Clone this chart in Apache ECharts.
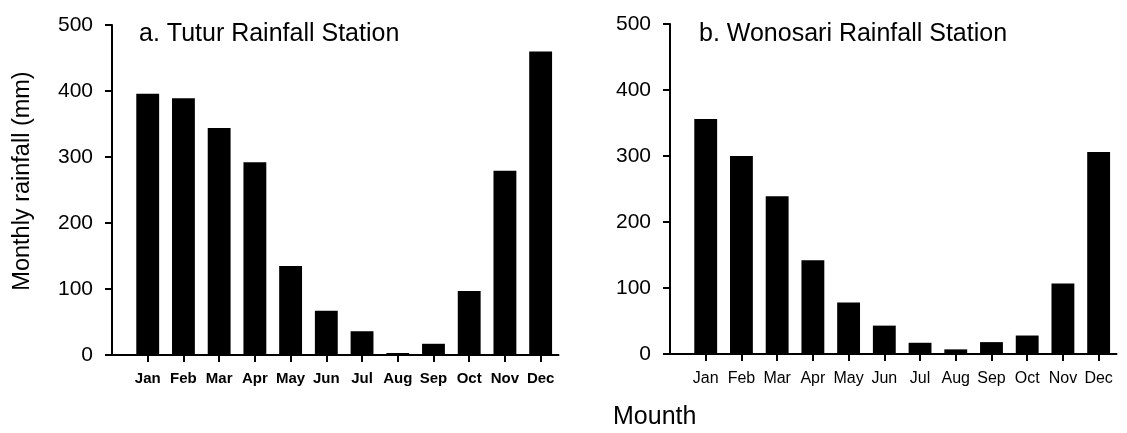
<!DOCTYPE html>
<html><head><meta charset="utf-8">
<script src="https://cdn.jsdelivr.net/npm/echarts@6/dist/echarts.min.js"></script>
<style>html,body{margin:0;padding:0;background:#fff}#c{width:1127px;height:433px}</style>
</head><body><div id="c"></div>
<script>
const months = ['Jan','Feb','Mar','Apr','May','Jun','Jul','Aug','Sep','Oct','Nov','Dec'];
const tuturRain = [396, 389, 344, 292, 135, 67, 36, 3, 17, 97, 279, 460];
const wonosariRain = [356, 300, 239, 142, 78, 43, 17, 7, 18, 28, 107, 306];
const yTickValues = [0, 100, 200, 300, 400, 500];
const panelTitles = ['a. Tutur Rainfall Station', 'b. Wonosari Rainfall Station'];
const yAxisTitle = 'Monthly rainfall (mm)';
const xAxisTitle = 'Mounth';

const FONT = "'Liberation Sans', Arial, Helvetica, sans-serif";
const monthIdx = months.map((m, i) => i);
const chart = echarts.init(document.getElementById('c'), null, {renderer: 'canvas'});

function xAx(gi, bold) {
  return {
    type: 'value', gridIndex: gi, min: -1, max: 11.5,
    splitLine: {show: false},
    axisLine: {onZero: false, lineStyle: {color: '#000', width: 2}},
    axisTick: {show: true, customValues: monthIdx, length: 7, lineStyle: {color: '#000', width: 2}},
    axisLabel: {
      customValues: monthIdx, formatter: v => months[v],
      fontSize: bold ? 15 : 16, fontWeight: bold ? 'bold' : 'normal',
      color: '#000', fontFamily: FONT, margin: bold ? 16 : 17
    }
  };
}
function yAx(gi, name, margin) {
  return {
    type: 'value', gridIndex: gi, min: yTickValues[0], max: yTickValues[yTickValues.length - 1], interval: 100,
    name: name, nameLocation: 'middle', nameGap: 77,
    nameTextStyle: {fontSize: 23.5, color: '#000', fontFamily: FONT, padding: [0, 0, 0, 18]},
    splitLine: {show: false},
    axisLine: {show: true, onZero: false, lineStyle: {color: '#000', width: 2}},
    axisTick: {show: true, length: 7, lineStyle: {color: '#000', width: 2}},
    axisLabel: {fontSize: 21, color: '#000', fontFamily: FONT, margin: margin}
  };
}

chart.setOption({
  backgroundColor: '#fff',
  animation: false,
  title: [
    {text: panelTitles[0], left: 134, top: 17, textStyle: {fontSize: 25, fontWeight: 'normal', color: '#000', fontFamily: FONT}},
    {text: panelTitles[1], left: 694, top: 17, textStyle: {fontSize: 25, fontWeight: 'normal', color: '#000', fontFamily: FONT}},
    {text: xAxisTitle, left: 608, top: 400, textStyle: {fontSize: 25, fontWeight: 'normal', color: '#000', fontFamily: FONT}}
  ],
  grid: [
    {left: 112, top: 25, width: 446.5, height: 330},
    {left: 670, top: 24, width: 446.5, height: 330}
  ],
  xAxis: [xAx(0, true), xAx(1, false)],
  yAxis: [yAx(0, yAxisTitle, 19), yAx(1, '', 19)],
  series: [
    {type: 'bar', xAxisIndex: 0, yAxisIndex: 0, barWidth: '64%', itemStyle: {color: '#000'},
     data: tuturRain.map((v, i) => [i, v])},
    {type: 'bar', xAxisIndex: 1, yAxisIndex: 1, barWidth: '64%', itemStyle: {color: '#000'},
     data: wonosariRain.map((v, i) => [i, v])}
  ]
});
</script></body></html>
